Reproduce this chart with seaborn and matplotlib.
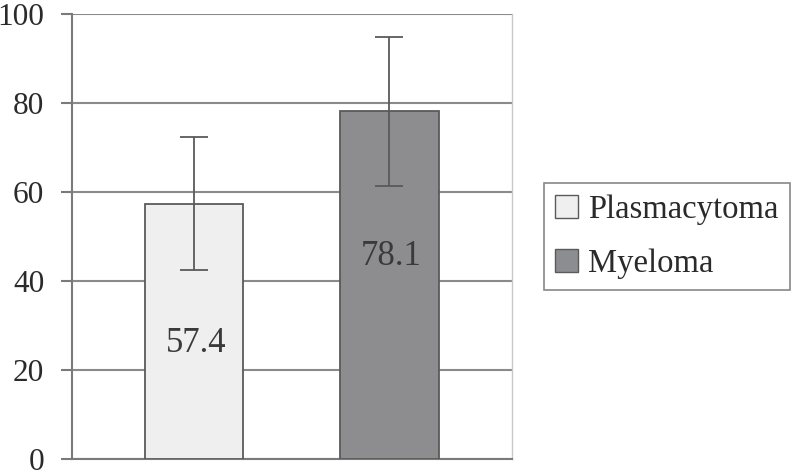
import matplotlib
matplotlib.use("Agg")
import matplotlib.pyplot as plt
import seaborn as sns
import pandas as pd
from matplotlib.patches import Patch

categories = ["Plasmacytoma", "Myeloma"]
values = [57.4, 78.1]
errors = [15.0, 16.7]
value_labels = ["57.4", "78.1"]
yticks = [0, 20, 40, 60, 80, 100]

colors = ["#efefef", "#8c8d90"]
edge = "#5a5a5a"

sns.set_theme(style="white")
plt.rcParams["font.family"] = ["Liberation Serif", "DejaVu Serif"]

fig = plt.figure(figsize=(7.94, 4.70), dpi=100)
ax = fig.add_axes([72/794, 11/470, 440/794, 445/470])

df = pd.DataFrame({"cat": categories, "val": values})
sns.barplot(data=df, x="cat", y="val", hue="cat", palette=colors,
            order=categories, hue_order=categories, dodge=False,
            width=0.503, edgecolor=edge, linewidth=1.3, legend=False,
            errorbar=None, ax=ax, zorder=3)

ax.errorbar(range(len(categories)), values, yerr=errors, fmt="none",
            ecolor="#5a5a5a", elinewidth=1.3, capsize=10, capthick=1.3, zorder=4)

label_frac = [0.418, 0.558]
for i, (v, t) in enumerate(zip(values, value_labels)):
    ax.text(i + 0.01, v * label_frac[i], t, ha="center", va="baseline",
            fontsize=25, color="#3a3a3a", zorder=5)

ax.set_ylim(0, 100)
ax.set_xlim(-0.626, 1.628)
ax.set_yticks(yticks)
ax.set_yticklabels([str(t) for t in yticks])
ax.set_xticks([])
ax.set_xlabel("")
ax.set_ylabel("")
ax.yaxis.grid(True, color="#8a8a8a", linewidth=1.5, zorder=0)
ax.set_axisbelow(True)
ax.tick_params(axis="y", which="major", left=True, length=8, width=1.5,
               color="#7a7a7a", pad=12, labelsize=22.5, labelcolor="#2a2a2a")

ax.spines["top"].set_visible(False)
ax.spines["left"].set_color("#7a7a7a")
ax.spines["left"].set_linewidth(1.5)
ax.spines["bottom"].set_color("#7a7a7a")
ax.spines["bottom"].set_linewidth(1.5)
ax.spines["right"].set_color("#c8c8c8")
ax.spines["right"].set_linewidth(1.0)

handles = [Patch(facecolor=c, edgecolor=edge, linewidth=1.0) for c in colors]
leg = fig.legend(handles, categories, loc="upper left",
                 bbox_to_anchor=(544/794, 1 - 183/470), fontsize=23.5,
                 frameon=True, fancybox=False, handlelength=0.7,
                 handleheight=0.7, handletextpad=0.3, borderpad=0.35,
                 labelspacing=0.72, borderaxespad=0)
leg.get_frame().set_edgecolor("#6a6a6a")
leg.get_frame().set_linewidth(1.2)
for t in leg.get_texts():
    t.set_color("#2a2a2a")

fig.savefig("out.png", dpi=100)
